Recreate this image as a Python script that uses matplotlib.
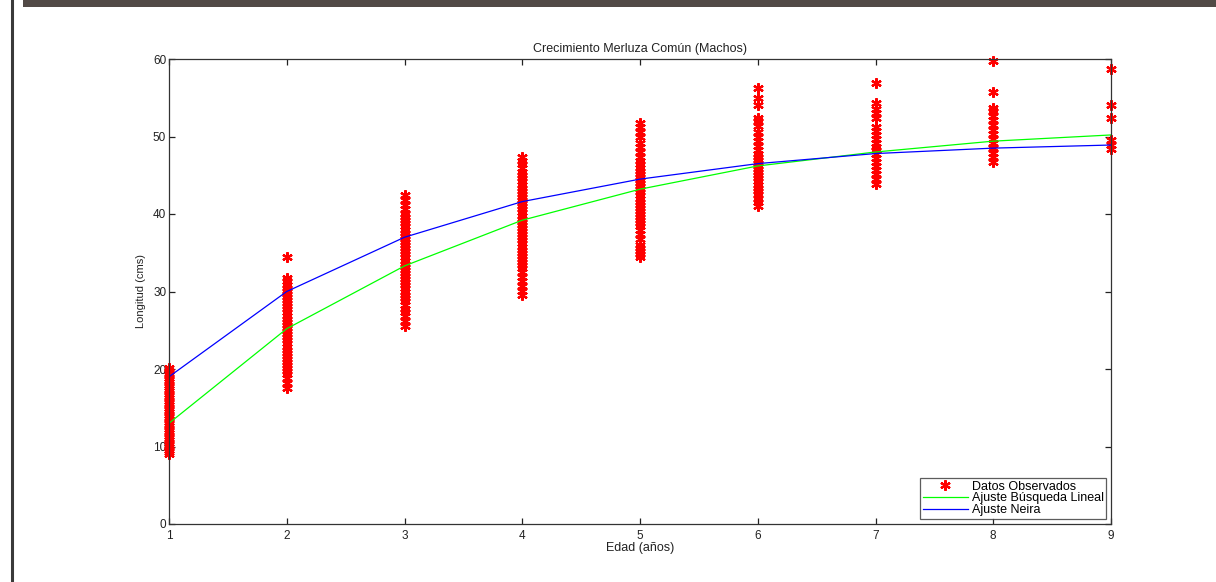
import matplotlib
matplotlib.use("Agg")
import matplotlib.pyplot as plt
from matplotlib.patches import Rectangle
from matplotlib.lines import Line2D

plt.rcParams['font.family'] = ['Liberation Sans', 'DejaVu Sans']

# ---- data ----
ages = [1, 2, 3, 4, 5, 6, 7, 8, 9]
fit_busqueda = [13.0, 25.2, 33.3, 39.2, 43.2, 46.2, 48.0, 49.4, 50.2]
fit_neira = [19.0, 30.0, 37.0, 41.6, 44.5, 46.5, 47.8, 48.5, 48.9]

obs_age1 = [9.0, 9.3, 9.6, 9.9, 10.2, 10.5, 10.8, 11.1, 11.4, 11.7, 12.0, 12.3, 12.6,
            12.9, 13.2, 13.5, 13.8, 14.1, 14.4, 14.7, 15.0, 15.3, 15.6, 15.9, 16.2,
            16.5, 16.8, 17.1, 17.4, 17.7, 18.0, 18.3, 18.6, 18.9, 19.2, 19.5, 19.8, 20.1]
obs_age2 = [17.6, 18.2, 18.8, 19.3, 19.7, 20.1, 20.5, 20.9, 21.3, 21.7, 22.1, 22.5,
            22.9, 23.3, 23.7, 24.1, 24.5, 24.9, 25.3, 25.7, 26.1, 26.5, 26.9, 27.3,
            27.7, 28.1, 28.5, 28.9, 29.3, 29.7, 30.1, 30.5, 30.9, 31.3, 31.7, 34.4]
obs_age3 = [25.6, 26.2, 26.8, 27.3, 27.8, 28.3, 28.8, 29.2, 29.6, 30.0, 30.4, 30.8,
            31.2, 31.6, 32.0, 32.4, 32.8, 33.2, 33.6, 34.0, 34.4, 34.8, 35.2, 35.6,
            36.0, 36.4, 36.8, 37.2, 37.6, 38.0, 38.4, 38.8, 39.2, 39.6, 40.0, 40.6,
            41.2, 41.8, 42.5]
obs_age4 = [29.5, 30.1, 30.7, 31.3, 31.9, 32.5, 33.0, 33.4, 33.8, 34.2, 34.6, 35.0,
            35.4, 35.8, 36.2, 36.6, 37.0, 37.4, 37.8, 38.2, 38.6, 39.0, 39.4, 39.8,
            40.2, 40.6, 41.0, 41.4, 41.8, 42.2, 42.6, 43.0, 43.4, 43.8, 44.2, 44.6,
            45.0, 45.4, 45.9, 46.4, 46.9, 47.3]
obs_age5 = [34.4, 34.8, 35.2, 35.6, 36.0, 36.8, 37.4, 37.9, 38.4, 38.8, 39.2, 39.6,
            40.0, 40.4, 40.8, 41.2, 41.6, 42.0, 42.4, 42.8, 43.2, 43.6, 44.0, 44.4,
            44.8, 45.2, 45.6, 46.0, 46.4, 46.8, 47.4, 48.0, 48.6, 49.2, 49.9, 50.6,
            51.2, 51.8]
obs_age6 = [41.0, 41.5, 42.0, 42.6, 43.0, 43.4, 43.8, 44.2, 44.6, 45.0, 45.4, 45.8,
            46.2, 46.6, 47.0, 47.4, 47.8, 48.2, 48.8, 49.4, 50.0, 50.6, 51.3, 52.0,
            52.4, 54.1, 55.0, 56.3]
obs_age7 = [43.9, 44.5, 45.1, 45.7, 46.2, 46.7, 47.2, 47.7, 48.2, 48.7, 49.2, 49.7,
            50.2, 50.7, 51.2, 52.4, 53.0, 53.6, 54.3, 56.9]
obs_age8 = [46.7, 47.3, 47.9, 48.5, 49.1, 49.7, 50.3, 50.9, 51.5, 52.1, 52.7, 53.3,
            53.7, 55.7, 59.8]
obs_age9 = [48.4, 48.9, 49.5, 52.4, 54.1, 58.7]

observed = [obs_age1, obs_age2, obs_age3, obs_age4, obs_age5,
            obs_age6, obs_age7, obs_age8, obs_age9]

title = "Crecimiento Merluza Común (Machos)"
xlabel = "Edad (años)"
ylabel = "Longitud (cms)"
legend_labels = ["Datos Observados", "Ajuste Búsqueda Lineal", "Ajuste Neira"]

# ---- figure ----
W, H = 1216, 582
fig = plt.figure(figsize=(W / 100, H / 100), dpi=100)
fig.patch.set_facecolor('white')

# page decorations (header bar & left border)
fig.add_artist(Rectangle((23 / W, 1 - 7 / H), 1 - 23 / W, 7 / H,
                         transform=fig.transFigure, facecolor='#524a46',
                         edgecolor='none'))
fig.add_artist(Line2D([12 / W, 12 / W], [0, 1], transform=fig.transFigure,
                      color='#3a3a3a', lw=2.2))

ax = fig.add_axes([169 / W, 58 / H, (1111 - 169) / W, (524 - 59) / H])

red = '#ff0000'
xs, ys = [], []
for a, vals in zip(ages, observed):
    xs.extend([a] * len(vals))
    ys.extend(vals)
obs_h, = ax.plot(xs, ys, linestyle='none', marker=(6, 2, 0), markersize=7.5,
                 markeredgewidth=1.6, color=red, clip_on=False)
g_h, = ax.plot(ages, fit_busqueda, color='#00ff00', lw=0.9)
b_h, = ax.plot(ages, fit_neira, color='#0000ff', lw=0.9)

ax.set_xlim(1, 9)
ax.set_ylim(0, 60)
ax.set_xticks(ages)
ax.set_yticks([0, 10, 20, 30, 40, 50, 60])
ax.tick_params(direction='in', length=4, width=0.9, top=True, right=True,
               labelsize=8.5, colors='#222222', pad=2)
ax.tick_params(axis='x', pad=4)
for s in ax.spines.values():
    s.set_color('#333333')
    s.set_linewidth(0.9)

ax.set_title(title, fontsize=9, pad=5, color='#222222')
ax.set_xlabel(xlabel, fontsize=9, labelpad=0, color='#222222')
ax.set_ylabel(ylabel, fontsize=8, labelpad=5, color='#222222')

leg = ax.legend([obs_h, g_h, b_h], legend_labels, loc='lower right',
                fontsize=9, frameon=True, fancybox=False, handlelength=3.6,
                handletextpad=0.3, borderpad=0.2, labelspacing=0.0,
                borderaxespad=0.4)
leg.get_frame().set_edgecolor('#333333')
leg.get_frame().set_linewidth(0.9)

fig.savefig('out.png', dpi=100)
